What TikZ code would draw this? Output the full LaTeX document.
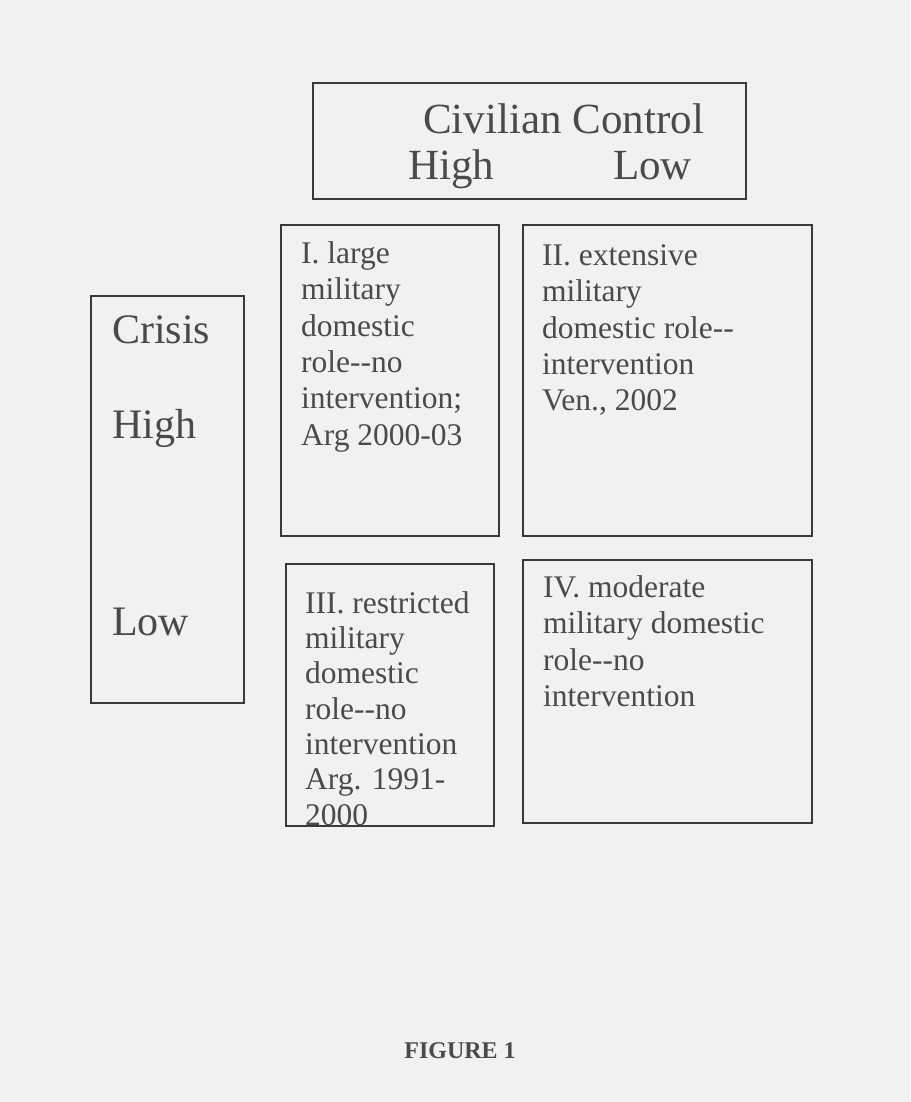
\documentclass[tikz,border=0pt]{standalone}
\usepackage{fontspec}
\setmainfont{Liberation Serif}
\definecolor{paper}{HTML}{F1F1F1}
\definecolor{ink}{HTML}{4A4A4A}
\definecolor{edge}{HTML}{3A3A3A}
\newcommand{\firstline}{\rule{0pt}{25pt}}

\begin{document}
\begin{tikzpicture}[x=1pt, y=-1pt,
    cell/.style={draw=edge, line width=1.6pt, inner sep=0pt, anchor=north west},
    celltext/.style={text=ink, inner sep=0pt, anchor=north west, align=left,
                     font=\fontsize{31.5}{36.4}\selectfont},
    bigtext/.style={text=ink, inner sep=0pt, anchor=base west,
                    font=\fontsize{43}{50}\selectfont}]
    \fill[paper] (0,0) rectangle (910,1102);
    \useasboundingbox (0,0) rectangle (910,1102);

    % boxes
    \node[cell, minimum width=433, minimum height=116] (head) at (312,82) {};
    \node[cell, minimum width=153, minimum height=407] (crisis) at (90,295) {};
    \node[cell, minimum width=218, minimum height=311] (q1) at (280,224) {};
    \node[cell, minimum width=289, minimum height=311] (q2) at (522,224) {};
    \node[cell, minimum width=208, minimum height=262] (q3) at (285,563) {};
    \node[cell, minimum width=289, minimum height=263] (q4) at (522,559) {};

    % axis labels
    \node[bigtext] (civ) at (423,134) {Civilian Control};
    \node[bigtext] (civhigh) at (408,179) {High};
    \node[bigtext] (civlow) at (613,179) {Low};
    \node[bigtext, font=\fontsize{42}{50}\selectfont] (crs) at (112,343) {Crisis};
    \node[bigtext, font=\fontsize{42}{50}\selectfont] (crshigh) at (112,438) {High};
    \node[bigtext, font=\fontsize{42}{50}\selectfont] (crslow) at (112,635) {Low};

    % quadrants
    \node[celltext] (t1) at (301,238) {\firstline I. large\\military\\domestic\\role-{}-no\\intervention;\\Arg 2000-03};
    \node[celltext] (t2) at (542,240) {\firstline II. extensive\\military\\domestic role-{}-\\intervention\\Ven., 2002};
    \begin{scope}
        \clip (q3.north west) rectangle (q3.south east);
        \node[celltext, font=\fontsize{31.5}{35.3}\selectfont] (t3) at (305,588)
            {\firstline III. restricted\\military\\domestic\\role-{}-no\\intervention\\Arg. 1991-\\2000};
    \end{scope}
    \node[celltext] (t4) at (543,572) {\firstline IV. moderate\\military domestic\\role-{}-no\\intervention};

    \node[text=ink, inner sep=0pt, anchor=base, font=\fontsize{24}{28}\selectfont\bfseries] (fig) at (460,1058) {FIGURE 1};
\end{tikzpicture}
\end{document}
